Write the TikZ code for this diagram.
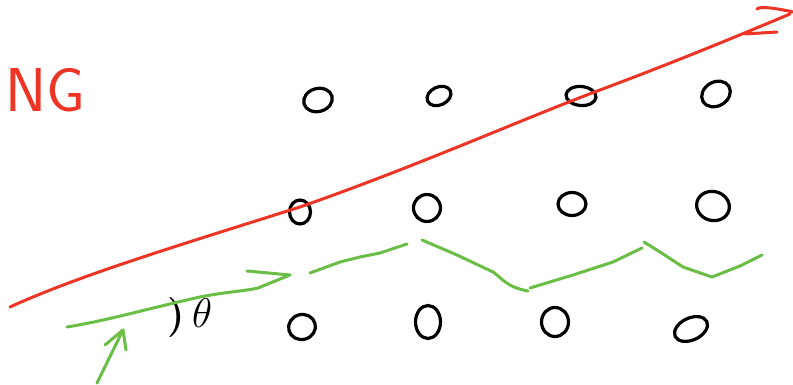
\documentclass[tikz,border=0pt]{standalone}
\usepackage{fontspec}
\usetikzlibrary{shapes.geometric}
\definecolor{pen}{RGB}{238,52,36}
\definecolor{leaf}{RGB}{106,190,70}
\begin{document}
\begin{tikzpicture}[x=0.5pt,y=-0.5pt,
  ring/.style={draw=black,line width=1.6pt,ellipse,inner sep=0pt,outer sep=0pt},
  redpen/.style={draw=pen,line width=1.5pt,line cap=round,line join=round},
  greenpen/.style={draw=leaf,line width=1.5pt,line cap=round,line join=round}]
\useasboundingbox[fill=white] (0,0) rectangle (793,385);
% rings
\node[ring,minimum width=14.5pt,minimum height=11.5pt,rotate=15] (a1) at (318,100) {};
\node[ring,minimum width=12.5pt,minimum height=9pt,rotate=25] (a2) at (439,96) {};
\node[ring,minimum width=15pt,minimum height=9.5pt,rotate=-5] (a3) at (581,96) {};
\node[ring,minimum width=15pt,minimum height=12pt,rotate=30] (a4) at (716,94) {};
\node[ring,minimum width=10.5pt,minimum height=12pt] (b1) at (300,212) {};
\node[ring,minimum width=13.5pt,minimum height=13.5pt] (b2) at (427,208) {};
\node[ring,minimum width=14pt,minimum height=11.5pt] (b3) at (572,204) {};
\node[ring,minimum width=16.5pt,minimum height=14.5pt,rotate=-15] (b4) at (713,206) {};
\node[ring,minimum width=13.5pt,minimum height=12.5pt,rotate=15] (c1) at (302,327) {};
\node[ring,minimum width=12.5pt,minimum height=16.5pt] (c2) at (428,322) {};
\node[ring,minimum width=13.5pt,minimum height=14.5pt] (c3) at (555,322) {};
\node[ring,minimum width=17.5pt,minimum height=11pt,rotate=25] (c4) at (691,329) {};
% red line with arrow head
\coordinate (r0) at (10,307);
\coordinate (r1) at (790,14);
\draw[redpen] (r0) .. controls (80,275) and (180,245) .. (300,207)
  .. controls (420,165) and (520,120) .. (600,90)
  .. controls (680,60) and (740,35) .. (r1);
\coordinate (h1) at (757,9);
\coordinate (h2) at (745,34);
\coordinate (h3) at (777,32);
\draw[redpen] (h1) .. controls (760,6) and (775,8) .. (793,12);
\draw[redpen] (h2) -- (h3);
\node[text=pen,font=\fontsize{31}{31}\sffamily,inner sep=0pt] (ng) at (45,90) {NG};
% theta
\node[font=\fontsize{20}{20}\selectfont\bfseries,inner sep=0pt] (th) at (190,318) {)\,$\theta$};
% green arrow along bottom
\coordinate (g0) at (67,327);
\coordinate (g1) at (258,288);
\coordinate (g2) at (290,275);
\coordinate (g3) at (247,271);
\draw[greenpen] (g0) .. controls (110,320) and (150,308) .. (200,297) .. controls (225,292) and (245,291) .. (g1) -- (g2);
\draw[greenpen] (g3) -- (g2);
% small arrow
\coordinate (s0) at (97,383);
\coordinate (s1) at (123,330);
\draw[greenpen] (s0) -- (s1);
\draw[greenpen] (105,345) -- (s1) -- (126,350);
% zigzag
\draw[greenpen] (310,273) -- (340,262) -- (360,257) -- (380,253) -- (407,244);
\draw[greenpen] (422,240) -- (457,255) -- (493,272) .. controls (502,278) and (506,287) .. (528,291);
\draw[greenpen] (530,288) -- (573,275) -- (613,262) -- (642,248);
\draw[greenpen] (644,242) -- (660,252) -- (683,267) -- (712,277) -- (740,266) -- (762,255);
\end{tikzpicture}
\end{document}
